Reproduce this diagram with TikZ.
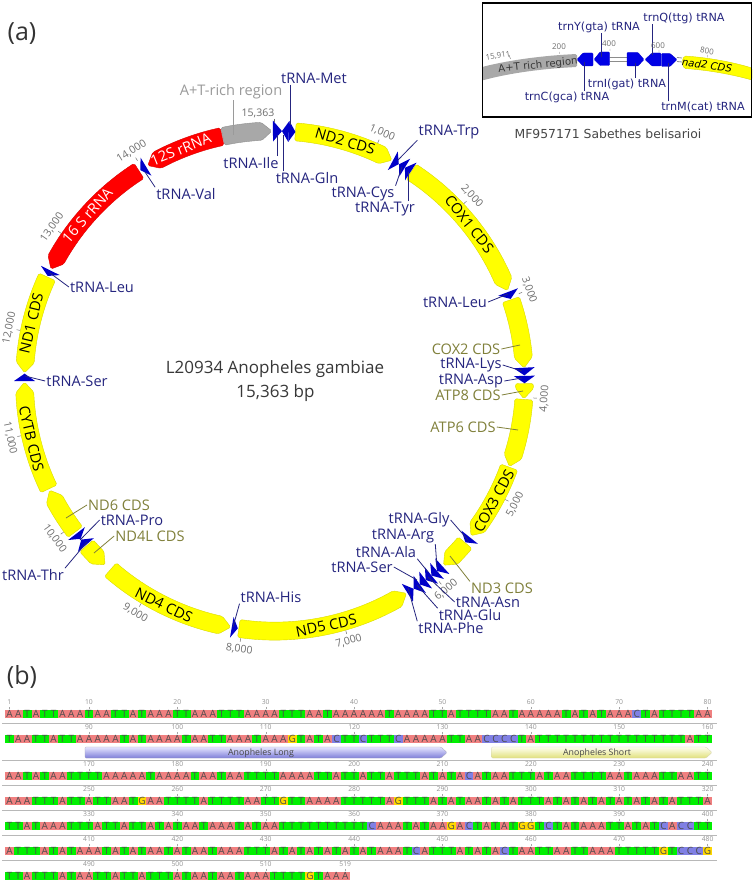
\documentclass[tikz,border=0pt]{standalone}
\usepackage{fontspec}
\setmainfont{Open Sans}
\newfontfamily\dvs{DejaVu Sans}
\usetikzlibrary{calc}
\definecolor{bandyellow}{HTML}{FFFF00}
\definecolor{bandred}{HTML}{FF0000}
\definecolor{bandgray}{HTML}{A8A8A8}
\definecolor{trnablue}{HTML}{0000C8}
\definecolor{navytext}{HTML}{25257F}
\definecolor{olivetext}{HTML}{80803A}
\definecolor{graytext}{HTML}{9A9A9A}
\definecolor{ticktext}{HTML}{6E6E6E}
\definecolor{seqA}{HTML}{F08080}
\definecolor{seqT}{HTML}{00F000}
\definecolor{seqG}{HTML}{FFD800}
\definecolor{seqC}{HTML}{8080E4}
\def\bpd{0.0234329}
\def\cx{274.5}
\def\cy{381}
\tikzset{
  featpath/.style={rounded corners=1.6pt,line width=.4pt},
  lab/.style={inner sep=1pt,font=\fontsize{14.6}{16}\selectfont},
  trnalab/.style={lab,text=navytext},
  cdslab/.style={lab,text=olivetext},
  graylab/.style={lab,text=graytext},
  bandlab/.style={inner sep=0pt,font=\fontsize{14.6}{16}\selectfont},
  ticklab/.style={inner sep=0pt,text=ticktext,font=\fontsize{10.5}{12}\selectfont},
  navyline/.style={draw=navytext,line width=.8pt},
  oliveline/.style={draw=olivetext,line width=.8pt},
  grayline/.style={draw=graytext,line width=.8pt},
  insetlab/.style={inner sep=.5pt,text=navytext,font=\dvs\fontsize{11.2}{13}\selectfont},
  instick/.style={inner sep=0pt,text=ticktext,font=\fontsize{8}{9}\selectfont},
  inshape/.style={fill=blue!90!black,draw=blue!80!black,line width=.3pt,rounded corners=.8pt},
  seqletter/.style={inner sep=0pt,text=black!70,font=\fontsize{10}{11}\selectfont},
  seqnum/.style={inner sep=0pt,text=black!42,font=\fontsize{6.8}{8}\selectfont},
  rowrule/.style={draw=black!28,line width=.9pt},
}
% tail bp, head bp, colour: a band with an arrow head
\newcommand\feat[3]{%
  \pgfmathsetmacro\ta{#1*\bpd}\pgfmathsetmacro\tb{#2*\bpd}%
  \pgfmathsetmacro\sg{ifthenelse(#2>#1,1,-1)}%
  \pgfmathsetmacro\tc{\tb-\sg*2.4}%
  \draw[featpath,fill=#3,draw=#3!85!black]
    ({\cx+259*sin(\ta)},{\cy-259*cos(\ta)})
    arc[start angle=\ta-90,end angle=\tc-90,radius=259]
    -- ({\cx+250*sin(\tb)},{\cy-250*cos(\tb)})
    -- ({\cx+241*sin(\tc)},{\cy-241*cos(\tc)})
    arc[start angle=\tc-90,end angle=\ta-90,radius=241] -- cycle;}
% tail bp, tip bp: a tRNA triangle
\newcommand\trna[2]{%
  \pgfmathsetmacro\ta{#1*\bpd}\pgfmathsetmacro\tb{#2*\bpd}%
  \fill[trnablue]
    ({\cx+260.5*sin(\ta)},{\cy-260.5*cos(\ta)})
    -- ({\cx+250*sin(\tb)},{\cy-250*cos(\tb)})
    -- ({\cx+239.5*sin(\ta)},{\cy-239.5*cos(\ta)}) -- cycle;}
% name, x, y, style, text, start anchor, end x, end y, line style
\newcommand\lbl[9]{%
  \node[#4] (l#1) at (#2,#3) {#5};
  \coordinate (c#1) at (#7,#8);
  \path[#9] (l#1.#6) -- (c#1);}
% the same, with a vertical leader
\newcommand\lblv[9]{%
  \node[#4] (l#1) at (#2,#3) {#5};
  \coordinate (c#1) at (#7,#8);
  \path[#9] (l#1.#6 -| c#1) -- (c#1);}
% text on a band: name, bp, text, colour
\newcommand\onband[4]{%
  \pgfmathsetmacro\ta{#2*\bpd}%
  \pgfmathsetmacro\rr{ifthenelse(\ta>90 && \ta<270,180-\ta,-\ta)}%
  \node[bandlab,text=#4,rotate=\rr] (#1) at ({\cx+250*sin(\ta)},{\cy-250*cos(\ta)}) {#3};}
% sequence rows
\newcount\seqk
\newcount\seqr
\newcommand\seqrow[2]{\seqk=0 \advance\seqr by 1 \def\seqtop{#1}\seqnext#2\relax}
\def\seqnext#1{\ifx#1\relax\else
  \advance\seqk by 1
  \fill[seq#1] ({5+(\the\seqk-1)*8.8375},\seqtop) rectangle ++(8.8375,8.4);
  \node[seqletter] (s\the\seqr-\the\seqk) at ({5+(\the\seqk-.5)*8.8375},{\seqtop+4.2}) {#1};
  \expandafter\seqnext\fi}
% k column, label, row top
\newcommand\seqtick[3]{%
  \node[seqnum] (n#2) at ({5+(#1-.5)*8.8375},{#3-7.6}) {#2};
  \draw[black!35,line width=.4pt] ({5+(#1-.5)*8.8375},{#3-3.2}) -- ++(0,2.6);}
\begin{document}
\begin{tikzpicture}[x=1pt,y=-1pt]
\useasboundingbox (0,0) rectangle (754,882);
\fill[white] (0,0) rectangle (754,882);
\node[inner sep=0pt,text=black!80,font=\fontsize{25}{28}\selectfont] (pa) at (22,34) {(a)};
\node[inner sep=0pt,text=black!80,font=\fontsize{25}{28}\selectfont] (pb) at (22,677) {(b)};
% ---- ring
\feat{14850}{15335}{bandgray}
\feat{205}{1195}{bandyellow}
\feat{1415}{2935}{bandyellow}
\feat{3030}{3712}{bandyellow}
\feat{3865}{4015}{bandyellow}
\feat{4020}{4694}{bandyellow}
\feat{4700}{5470}{bandyellow}
\feat{5560}{5865}{bandyellow}
\feat{8030}{6320}{bandyellow}
\feat{9430}{8110}{bandyellow}
\feat{9760}{9500}{bandyellow}
\feat{9935}{10415}{bandyellow}
\feat{10430}{11510}{bandyellow}
\feat{12570}{11600}{bandyellow}
\feat{13960}{12655}{bandred}
\feat{14843}{14060}{bandred}
\trna{-15}{73}\trna{140}{73}\trna{140}{205}
\trna{1205}{1272}\trna{1340}{1275}\trna{1410}{1342}
\trna{2950}{3022}\trna{3710}{3785}\trna{3790}{3862}
\trna{5490}{5555}
\trna{5880}{5950}\trna{5950}{6020}\trna{6020}{6092}\trna{6092}{6164}\trna{6164}{6236}\trna{6310}{6238}
\trna{8100}{8040}
\trna{9770}{9840}\trna{9915}{9850}
\trna{11520}{11592}
\trna{12640}{12580}
\trna{14040}{13975}
% ---- text on the bands
\onband{tND2}{700}{ND2 CDS}{black}
\onband{tCOX1}{2185}{COX1 CDS}{black}
\onband{tCOX3}{5060}{COX3 CDS}{black}
\onband{tND5}{7170}{ND5 CDS}{black}
\onband{tND4}{8800}{ND4 CDS}{black}
\onband{tCYTB}{10950}{CYTB CDS}{black}
\onband{tND1}{12090}{ND1 CDS}{black}
\onband{t16S}{13290}{16 S rRNA}{white}
\onband{t12S}{14420}{12S rRNA}{white}
% ---- ticks
\foreach \k in {1000,2000,...,14000}{
  \pgfmathsetmacro\ta{\k*\bpd}
  \pgfmathsetmacro\rr{ifthenelse(\ta>90 && \ta<270,180-\ta,-\ta)}
  \pgfmathtruncatemacro\th{\k/1000}
  \draw[ticktext,line width=.5pt] ({\cx+259.5*sin(\ta)},{\cy-259.5*cos(\ta)}) -- ({\cx+263*sin(\ta)},{\cy-263*cos(\ta)});
  \node[ticklab,rotate=\rr] (tick\th) at ({\cx+270.5*sin(\ta)},{\cy-270.5*cos(\ta)}) {\th,000};
}
\node[ticklab] (tick0) at (258,113) {15,363};
\coordinate (t0a) at (274,119);
\coordinate (t0b) at (274,122);
\draw[ticktext,line width=.5pt] (t0a) -- (t0b);
% ---- labels with leaders
\lblv{Met}{314}{78}{trnalab}{tRNA-Met}{south}{290}{125}{navyline}
\lblv{AT}{231}{92}{graylab}{A+T-rich region}{south}{233}{135}{grayline}
\lblv{Ile}{251}{163}{trnalab}{tRNA-Ile}{north}{277}{135}{navyline}
\lblv{Gln}{307}{178}{trnalab}{tRNA-Gln}{north}{283}{135}{navyline}
\lbl{Trp}{449}{132}{trnalab}{tRNA-Trp}{south west}{398}{160}{navyline}
\lbl{Cys}{363}{194}{trnalab}{tRNA-Cys}{north east}{402}{167}{navyline}
\lblv{Tyr}{385}{209}{trnalab}{tRNA-Tyr}{north}{408}{172}{navyline}
\lbl{Val}{186}{194}{trnalab}{tRNA-Val}{north west}{145}{172}{navyline}
\lbl{LeuA}{455}{302}{trnalab}{tRNA-Leu}{east}{508}{294}{navyline}
\lbl{COXb}{466}{349}{cdslab}{COX2 CDS}{east}{520}{345}{oliveline}
\lbl{Lys}{471}{365}{trnalab}{tRNA-Lys}{east}{522}{371}{navyline}
\lbl{Asp}{471}{381}{trnalab}{tRNA-Asp}{east}{522}{378}{navyline}
\lbl{ATPe}{468}{395}{cdslab}{ATP8 CDS}{east}{523}{391}{oliveline}
\lbl{ATPs}{463}{427}{cdslab}{ATP6 CDS}{east}{518}{430}{oliveline}
\lbl{Gly}{419}{520}{trnalab}{tRNA-Gly}{east}{468}{540}{navyline}
\lbl{Arg}{403}{536}{trnalab}{tRNA-Arg}{south east}{437}{567}{navyline}
\lbl{Ala}{386}{552}{trnalab}{tRNA-Ala}{south east}{428}{572}{navyline}
\lbl{SerA}{362}{567}{trnalab}{tRNA-Ser}{east}{417}{580}{navyline}
\lbl{NDt}{502}{588}{cdslab}{ND3 CDS}{north west}{450}{556}{oliveline}
\lbl{Asn}{488}{602}{trnalab}{tRNA-Asn}{west}{428}{577}{navyline}
\lbl{Glu}{470}{615}{trnalab}{tRNA-Glu}{north west}{417}{585}{navyline}
\lbl{Phe}{451}{628}{trnalab}{tRNA-Phe}{north west}{408}{588}{navyline}
\lbl{NDs}{119}{505}{cdslab}{ND6 CDS}{west}{66}{518}{oliveline}
\lbl{Pro}{132}{520}{trnalab}{tRNA-Pro}{west}{80}{540}{navyline}
\lbl{NDl}{150}{536}{cdslab}{ND4L CDS}{west}{94}{553}{oliveline}
\lbl{Thr}{33}{575}{trnalab}{tRNA-Thr}{north east}{87}{542}{navyline}
\lbl{His}{271}{597}{trnalab}{tRNA-His}{south west}{233}{627}{navyline}
\lbl{LeuB}{102}{287}{trnalab}{tRNA-Leu}{west}{50}{273}{navyline}
\lbl{SerB}{77}{381}{trnalab}{tRNA-Ser}{west}{25}{376}{navyline}
% ---- centre title
\node[inner sep=0pt,text=black!78,font=\fontsize{17}{19}\selectfont] (title) at (275,369) {L20934 Anopheles gambiae};
\node[inner sep=0pt,text=black!78,font=\fontsize{17}{19}\selectfont] (bp) at (275.5,393) {15,363 bp};
% ---- inset
\fill[bandgray,rounded corners=1.5pt] (482,67) .. controls (512,59.5) and (545,55.5) .. (577,54) -- (577,67) .. controls (545,68.5) and (512,72.5) .. (482,80.5) -- cycle;
\draw[featpath,fill=bandyellow,draw=bandyellow!85!black] (684,56) .. controls (708,57.5) and (732,62) .. (752,68) -- (752,80) .. controls (732,74.5) and (708,70) .. (684,68.5) -- (682,62) -- cycle;
\draw[black!45,line width=.8pt] (609.5,57.5) -- (627,57.5) (609.5,61.5) -- (627,61.5) (677,57.5) -- (682,58) (677,61.5) -- (682,62);
\path[inshape] (577,59.5) -- (583,53) -- (593,53) -- (593,66) -- (583,66) -- cycle;
\path[inshape] (594,59.5) -- (600,52) -- (609.5,52) -- (609.5,65.5) -- (600,65.5) -- cycle;
\path[inshape] (627,52.5) -- (638,52.5) -- (644,59.5) -- (638,66) -- (627,66) -- cycle;
\path[inshape] (645,59.5) -- (652,53) -- (661,53) -- (661,66) -- (652,66) -- cycle;
\path[inshape] (661.5,53.5) -- (670,53.5) -- (677,59.5) -- (670,66.5) -- (661.5,66.5) -- cycle;
\node[inner sep=0pt,text=black!78,rotate=6,font=\dvs\fontsize{10.2}{12}\selectfont] (iAT) at (538,65.5) {A+T rich region};
\node[inner sep=0pt,text=black,rotate=-8,font=\dvs\fontsize{10.2}{12}\itshape\selectfont] (iND) at (707,65) {nad2 CDS};
\lblv{iY}{599}{27}{insetlab}{trnY(gta) tRNA}{south}{601}{57}{navyline}
\lblv{iQ}{684}{18}{insetlab}{trnQ(ttg) tRNA}{south}{652}{55}{navyline}
\lblv{iI}{627}{84}{insetlab}{trnI(gat) tRNA}{north}{635}{63}{navyline}
\lblv{iC}{567}{97}{insetlab}{trnC(gca) tRNA}{north}{584}{62}{navyline}
\lblv{iM}{703}{107}{insetlab}{trnM(cat) tRNA}{north}{668}{63}{navyline}
\node[instick,rotate=8] (i0) at (498,56) {15,911};
\node[instick] (i2) at (559,47) {200};
\node[instick] (i4) at (609,44) {400};
\node[instick] (i6) at (658,46) {600};
\node[instick,rotate=-8] (i8) at (707,51) {800};
\draw[ticktext,line width=.4pt] (509,55) -- (510.5,59) (559.5,52) -- (559.5,54) (610,49) -- (610,51) (659,50) -- (659,52.5) (707.5,55) -- (707.5,57.5);
\draw[black,line width=1.7pt] (482.5,3) rectangle (751.5,117);
\node[inner sep=0pt,text=black!72,font=\dvs\fontsize{12.4}{14}\selectfont] (cap) at (608,133.5) {MF957171 Sabethes belisarioi};
% ---- part b
\foreach \y in {723.3,760,785.7,810.3,835.7,860.7}{\draw[rowrule] (2,\y) -- (717,\y);}
\seqrow{710}{AATATTAAATAATTATAAATTAAATTTAAAATTTAATAAAAAATAAAATTATTTTAATAAAAATATATAAACTATTTTAA}
\seqrow{735}{TAATTATTAAAAATATAAAATAATTAAATAAAGTATACTTCTTTCAAAAATTAACCCCTATTTTTTTTTTTTTTTTTATT}
\seqrow{772}{AATATAATTTTAAAAATAAAATAATAATTTTAAAATTATTATTATTTATATACATAATTTATAATTTTAATAAATTAATT}
\seqrow{797}{AAATTTATTATTAATGAATTTTATTTTAATTGTTAAAATTTTTAGTTTATATAATATATTTATATATATATATATATTTA}
\seqrow{822}{TTATAAATTTATTATTATATAATAAATATAATTTTTTTTTTCAAATATAAGACTATATGGTCTATAAATTATATCACCTT}
\seqrow{847}{ATTTATATAAATATATAATATAATAAATTTATATATATATATAAATCATTTATATACTAATTAATTAAATTTTTGTCCCG}
\seqrow{872}{TTATTTATAATTATTATTTATAATAATAAATTTTGTAAA}
\seqtick{1}{1}{710}
\foreach \c [evaluate=\c as \v using int(\c*10)] in {1,...,8}{\pgfmathtruncatemacro\kk{\c*10}\seqtick{\kk}{\v}{710}}
\foreach \c in {1,...,8}{\pgfmathtruncatemacro\kk{\c*10}\pgfmathtruncatemacro\v{80+\kk}\seqtick{\kk}{\v}{735}}
\foreach \c in {1,...,8}{\pgfmathtruncatemacro\kk{\c*10}\pgfmathtruncatemacro\v{160+\kk}\seqtick{\kk}{\v}{772}}
\foreach \c in {1,...,8}{\pgfmathtruncatemacro\kk{\c*10}\pgfmathtruncatemacro\v{240+\kk}\seqtick{\kk}{\v}{797}}
\foreach \c in {1,...,8}{\pgfmathtruncatemacro\kk{\c*10}\pgfmathtruncatemacro\v{320+\kk}\seqtick{\kk}{\v}{822}}
\foreach \c in {1,...,8}{\pgfmathtruncatemacro\kk{\c*10}\pgfmathtruncatemacro\v{400+\kk}\seqtick{\kk}{\v}{847}}
\foreach \c in {1,2,3}{\pgfmathtruncatemacro\kk{\c*10}\pgfmathtruncatemacro\v{480+\kk}\seqtick{\kk}{\v}{872}}
\seqtick{39}{519}{872}
% annotations
\shade[top color=blue!10!white,bottom color=blue!42!white!85!black,draw=blue!25!black!35,line width=.3pt,rounded corners=1pt]
  (85,747) -- (441,747) -- (447,752.5) -- (441,758) -- (85,758) -- cycle;
\shade[top color=yellow!6!white,bottom color=yellow!45!white!88!black,draw=yellow!45!black!35,line width=.3pt,rounded corners=1pt]
  (491.5,747) -- (706,747) -- (712,752.5) -- (706,758) -- (491.5,758) -- cycle;
\node[inner sep=0pt,text=black!72,font=\fontsize{8.8}{10}\selectfont] (aLong) at (261,752.8) {Anopheles Long};
\node[inner sep=0pt,text=black!72,font=\fontsize{8.8}{10}\selectfont] (aShort) at (597,752.8) {Anopheles Short};
\end{tikzpicture}
\end{document}
